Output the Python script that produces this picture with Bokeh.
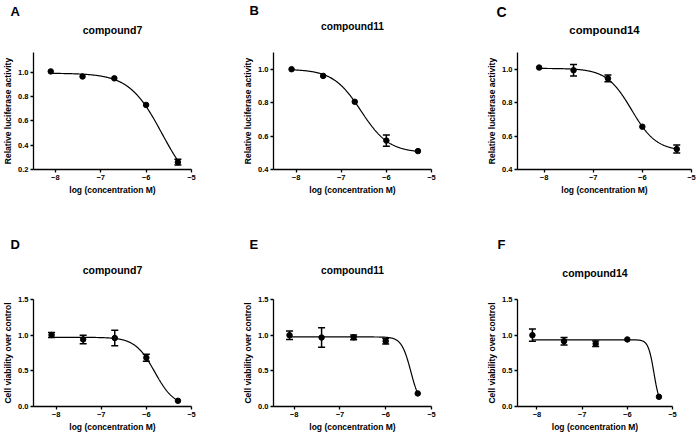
import numpy as np
from bokeh.plotting import figure
from bokeh.layouts import row, column
from bokeh.models import (Whisker, ColumnDataSource, TeeHead, Range1d, FixedTicker,
                          PrintfTickFormatter, LinearAxis)
from bokeh.embed import file_html
from bokeh.resources import INLINE

# ---------------- data ----------------
log_conc = [-8.1, -7.4, -6.7, -6.0, -5.3]
x_ticks = [-8, -7, -6, -5]

panel_letters = ["A", "B", "C", "D", "E", "F"]
compound_names = ["compound7", "compound11", "compound14", "compound7", "compound11", "compound14"]
y_labels = ["Relative luciferase activity"] * 3 + ["Cell viability over control"] * 3
x_label = "log (concentration M)"

# luciferase (top row)
lucA_mean = [1.005, 0.963, 0.948, 0.73, 0.26]
lucA_err = [0.0, 0.0, 0.0, 0.0, 0.024]
lucB_mean = [1.0, 0.96, 0.805, 0.573, 0.51]
lucB_err = [0.0, 0.0, 0.0, 0.034, 0.0]
lucC_mean = [1.01, 0.994, 0.945, 0.656, 0.522]
lucC_err = [0.0, 0.034, 0.02, 0.0, 0.024]
# viability (bottom row)
viaD_mean = [1.003, 0.94, 0.96, 0.684, 0.08]
viaD_err = [0.035, 0.06, 0.11, 0.05, 0.0]
viaE_mean = [1.0, 0.967, 0.97, 0.915, 0.183]
viaE_err = [0.06, 0.136, 0.033, 0.04, 0.0]
viaF_mean = [1.0, 0.915, 0.88, 0.94, 0.136]
viaF_err = [0.087, 0.054, 0.038, 0.0, 0.0]

# fitted 4-parameter logistic curves: top, bottom, logIC50, hill
fit_top = [0.99, 1.0, 1.005, 0.97, 0.975, 0.935]
fit_bottom = [0.0, 0.5, 0.51, 0.0, 0.0, 0.0]
fit_logic50 = [-5.65, -6.56, -6.22, -5.815, -5.45, -5.41]
fit_hill = [1.2, 1.4, 1.71, 2.0, 4.25, 6.9]

y_ticks_list = [[0.2, 0.4, 0.6, 0.8, 1.0], [0.4, 0.6, 0.8, 1.0], [0.4, 0.6, 0.8, 1.0],
                [0.0, 0.5, 1.0, 1.5], [0.0, 0.5, 1.0, 1.5], [0.0, 0.5, 1.0, 1.5]]

means = [lucA_mean, lucB_mean, lucC_mean, viaD_mean, viaE_mean, viaF_mean]
errs = [lucA_err, lucB_err, lucC_err, viaD_err, viaE_err, viaF_err]

# ---------------- layout / style ----------------
FONT = "Liberation Sans"
widths = [240, 244, 214]
heights = [222, 213]
row_tops = [0, 222]
y_ranges = [(0.2, 1.16), (0.4, 1.1), (0.4, 1.1), (0.0, 1.5), (0.0, 1.5), (0.0, 1.5)]
x_ranges = [(-8.48, -5), (-8.5, -5), (-8.54, -5), (-8.5, -5), (-8.45, -5), (-8.43, -5)]
# frame edges in page pixels: left, right, top, bottom
frames = [(31, 191, 49, 169), (271, 431, 49, 169), (514, 691, 49, 169),
          (30, 191, 299, 406), (271, 431, 299, 406), (513, 672, 299, 406)]
col_lefts = [0, 240, 484]
# panel letter: font size, cap-centre y, left x ; compound title: font size, cap-centre y, centre x
letter_font = [13, 13, 14, 13, 13, 13]
letter_cy = [11.2, 9.6, 11.2, 247, 247, 247]
letter_x = [8, 247, 493, 7, 247, 493]
title_font = [10.5, 10.2, 11.3, 10.5, 10.2, 10.5]
title_cy = [28.15, 24.76, 27.78, 271, 271, 274.5]
title_cx = [110.5, 349.5, 601.5, 110, 349.5, 589.5]


def style_axis(ax):
    ax.axis_line_color = "black"
    ax.axis_line_width = 1.3
    ax.major_tick_line_color = "black"
    ax.major_tick_line_width = 1.3
    ax.major_tick_out = 3
    ax.major_tick_in = 0
    ax.minor_tick_line_color = None
    ax.major_label_text_font = FONT
    ax.major_label_text_font_size = "7.5px"
    ax.major_label_text_font_style = "bold"
    ax.major_label_text_color = "black"
    ax.axis_label_text_font = FONT
    ax.axis_label_text_font_size = "8.5px"
    ax.axis_label_text_font_style = "bold"
    ax.axis_label_text_color = "black"
    ax.axis_label_standoff = 2
    ax.major_label_standoff = 2


def make_panel(i):
    fl, fr, ft, fb = frames[i]
    c, r = i % 3, i // 3
    x0, y0 = col_lefts[c], row_tops[r]
    w, h = widths[c], heights[r]
    bl, br, bt, bb = fl - x0, x0 + w - fr, ft - y0, y0 + h - fb

    p = figure(width=w, height=h, output_backend="svg",
               toolbar_location=None, x_range=Range1d(*x_ranges[i]), y_range=Range1d(*y_ranges[i]),
               min_border_left=bl, min_border_right=br, min_border_top=bt, min_border_bottom=bb,
               background_fill_color="white", border_fill_color="white")
    p.outline_line_color = None
    p.xgrid.visible = False
    p.ygrid.visible = False

    xax = p.below[0]
    yax = p.left[0]
    style_axis(xax)
    style_axis(yax)
    xax.ticker = FixedTicker(ticks=x_ticks)
    xax.axis_label = x_label
    yax.ticker = FixedTicker(ticks=y_ticks_list[i])
    yax.formatter = PrintfTickFormatter(format="%.1f")
    yax.axis_label = y_labels[i]

    # --- compound title: label of an invisible axis above the frame (baseline-anchored)
    fL, fT = letter_font[i], title_font[i]
    t_standoff = int(round(ft - (title_cy[i] + 0.358 * fT)))
    axis_top = ft - t_standoff - 1.117 * fT
    xlo, xhi = x_ranges[i]
    cx = xlo + (title_cx[i] - fl) * (xhi - xlo) / (fr - fl)
    top_axis = LinearAxis(ticker=FixedTicker(ticks=[]), axis_line_color=None,
                          major_tick_line_color=None, minor_tick_line_color=None,
                          major_tick_out=0, major_tick_in=0, minor_tick_out=0, minor_tick_in=0,
                          major_label_standoff=0, bounds=(xlo, 2 * cx - xlo),
                          axis_label=compound_names[i], axis_label_standoff=t_standoff,
                          axis_label_text_font=FONT, axis_label_text_font_size=f"{fT}px",
                          axis_label_text_font_style="bold", axis_label_text_color="black")
    p.add_layout(top_axis, "above")

    # --- panel letter: plot title, sitting directly above the title axis
    sL = max(0.0, 2 * (axis_top - (letter_cy[i] + 0.57 * fL)))
    p.title.text = panel_letters[i]
    p.title.align = "left"
    p.title.offset = letter_x[i] - fl
    p.title.vertical_align = "bottom"
    p.title.standoff = sL
    p.title.text_font = FONT
    p.title.text_font_size = f"{fL}px"
    p.title.text_font_style = "bold"
    p.title.text_color = "black"

    # fitted curve
    xs = np.linspace(log_conc[0], log_conc[-1], 300)
    ys = fit_bottom[i] + (fit_top[i] - fit_bottom[i]) / (1 + 10 ** (fit_hill[i] * (xs - fit_logic50[i])))
    p.line(xs, ys, line_color="black", line_width=1.2)

    # error bars
    ex = [x for x, e in zip(log_conc, errs[i]) if e > 0]
    em = [m for m, e in zip(means[i], errs[i]) if e > 0]
    ee = [e for e in errs[i] if e > 0]
    if ex:
        src = ColumnDataSource(dict(x=ex, upper=[m + e for m, e in zip(em, ee)],
                                    lower=[m - e for m, e in zip(em, ee)]))
        wk = Whisker(source=src, base="x", upper="upper", lower="lower", dimension="height",
                     line_color="black", line_width=1.5,
                     upper_head=TeeHead(size=7, line_color="black", line_width=1.5),
                     lower_head=TeeHead(size=7, line_color="black", line_width=1.5))
        p.add_layout(wk)

    p.scatter(log_conc, means[i], size=5.5, color="black")
    return p


panels = [make_panel(i) for i in range(6)]
layout = column(row(*panels[:3]), row(*panels[3:]))

open("out.html", "w").write(file_html(layout, INLINE))
